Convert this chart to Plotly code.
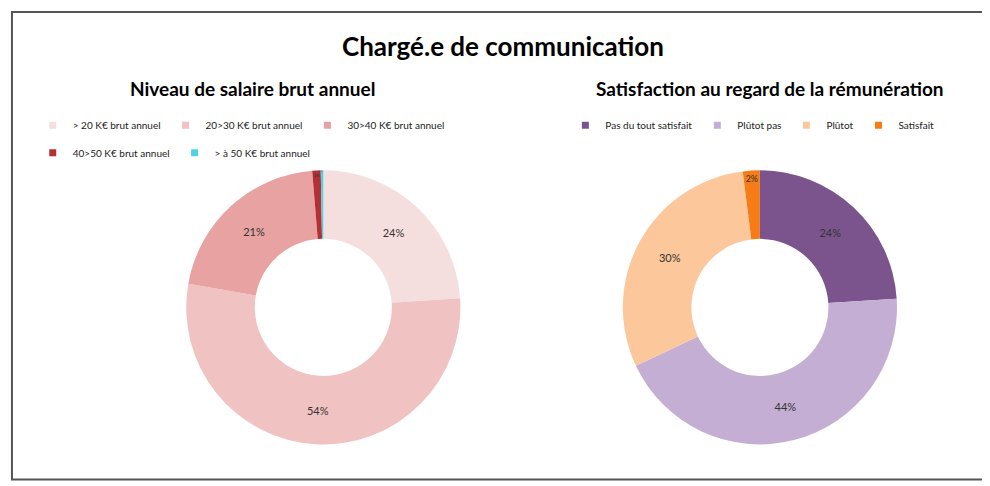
import plotly.graph_objects as go

# Niveau de salaire
salaire_labels = ["> 20 K€ brut annuel", "20>30 K€ brut annuel", "30>40 K€ brut annuel",
                  "40>50 K€ brut annuel", "> à 50 K€ brut annuel"]
salaire_vals = [24, 54, 21, 1, 0.3]
salaire_colors = ["#F5DEDE", "#F0C2C2", "#E8A2A2", "#B53035", "#4DD3E3"]
salaire_legend = ["legend", "legend", "legend", "legend3", "legend3"]

# Satisfaction
satis_labels = ["Pas du tout satisfait", "Plûtot pas", "Plûtot", "Satisfait"]
satis_vals = [24, 44, 30, 2]
satis_colors = ["#7B548E", "#C4AED3", "#FCC89B", "#F57C16"]

fig = go.Figure()

fig.add_trace(go.Pie(
    labels=salaire_labels, values=salaire_vals, hole=0.5, sort=False,
    direction="clockwise", rotation=0,
    marker=dict(colors=salaire_colors),
    texttemplate="%{percent:.0%}", textposition="inside",
    insidetextorientation="horizontal",
    textfont=dict(color="#333333", size=11),
    domain=dict(x=[0.180, 0.457], y=[0.102, 0.666]),
    showlegend=False,
))
fig.add_trace(go.Pie(
    labels=satis_labels, values=satis_vals, hole=0.5, sort=False,
    direction="clockwise", rotation=0,
    marker=dict(colors=satis_colors),
    texttemplate="%{percent:.0%}", textposition="inside",
    insidetextorientation="horizontal",
    textfont=dict(color="#333333", size=11),
    domain=dict(x=[0.621, 0.898], y=[0.102, 0.666]),
    showlegend=False,
))

# legends built from dummy scatter markers
for lab, col, lg in zip(salaire_labels, salaire_colors, salaire_legend):
    fig.add_trace(go.Scatter(x=[None], y=[None], mode="markers", name=lab,
                             marker=dict(symbol="square", size=7, color=col),
                             legend=lg))
for lab, col in zip(satis_labels, satis_colors):
    fig.add_trace(go.Scatter(x=[None], y=[None], mode="markers", name=lab,
                             marker=dict(symbol="square", size=7, color=col),
                             legend="legend2"))

leg = dict(orientation="h", yanchor="middle", xanchor="left",
           font=dict(size=10, color="#222222"), itemwidth=30,
           bgcolor="rgba(0,0,0,0)", tracegroupgap=0)
fig.update_layout(
    width=990, height=486,
    margin=dict(l=0, r=0, t=0, b=0),
    paper_bgcolor="white", plot_bgcolor="white",
    font=dict(family="Lato, sans-serif"),
    xaxis=dict(visible=False), yaxis=dict(visible=False),
    legend=dict(leg, x=0.025, y=0.759),
    legend3=dict(leg, x=0.025, y=0.702),
    legend2=dict(leg, x=0.563, y=0.759),
    annotations=[
        dict(text="<b>Chargé.e de communication</b>", x=0.5, y=0.922, xref="paper", yref="paper",
             xanchor="center", yanchor="middle",
             showarrow=False, font=dict(size=26, color="black")),
        dict(text="<b>Niveau de salaire brut annuel</b>", x=0.247, y=0.835, xref="paper", yref="paper",
             xanchor="center", yanchor="middle",
             showarrow=False, font=dict(size=19, color="black")),
        dict(text="<b>Satisfaction au regard de la rémunération</b>", x=0.77, y=0.835, xref="paper", yref="paper",
             xanchor="center", yanchor="middle",
             showarrow=False, font=dict(size=19, color="black")),
    ],
    shapes=[dict(type="rect", xref="paper", yref="paper", x0=0.004, x1=0.993, y0=0.03, y1=0.992,
                 line=dict(color="#555555", width=2))],
)

fig.write_html("out.html")
